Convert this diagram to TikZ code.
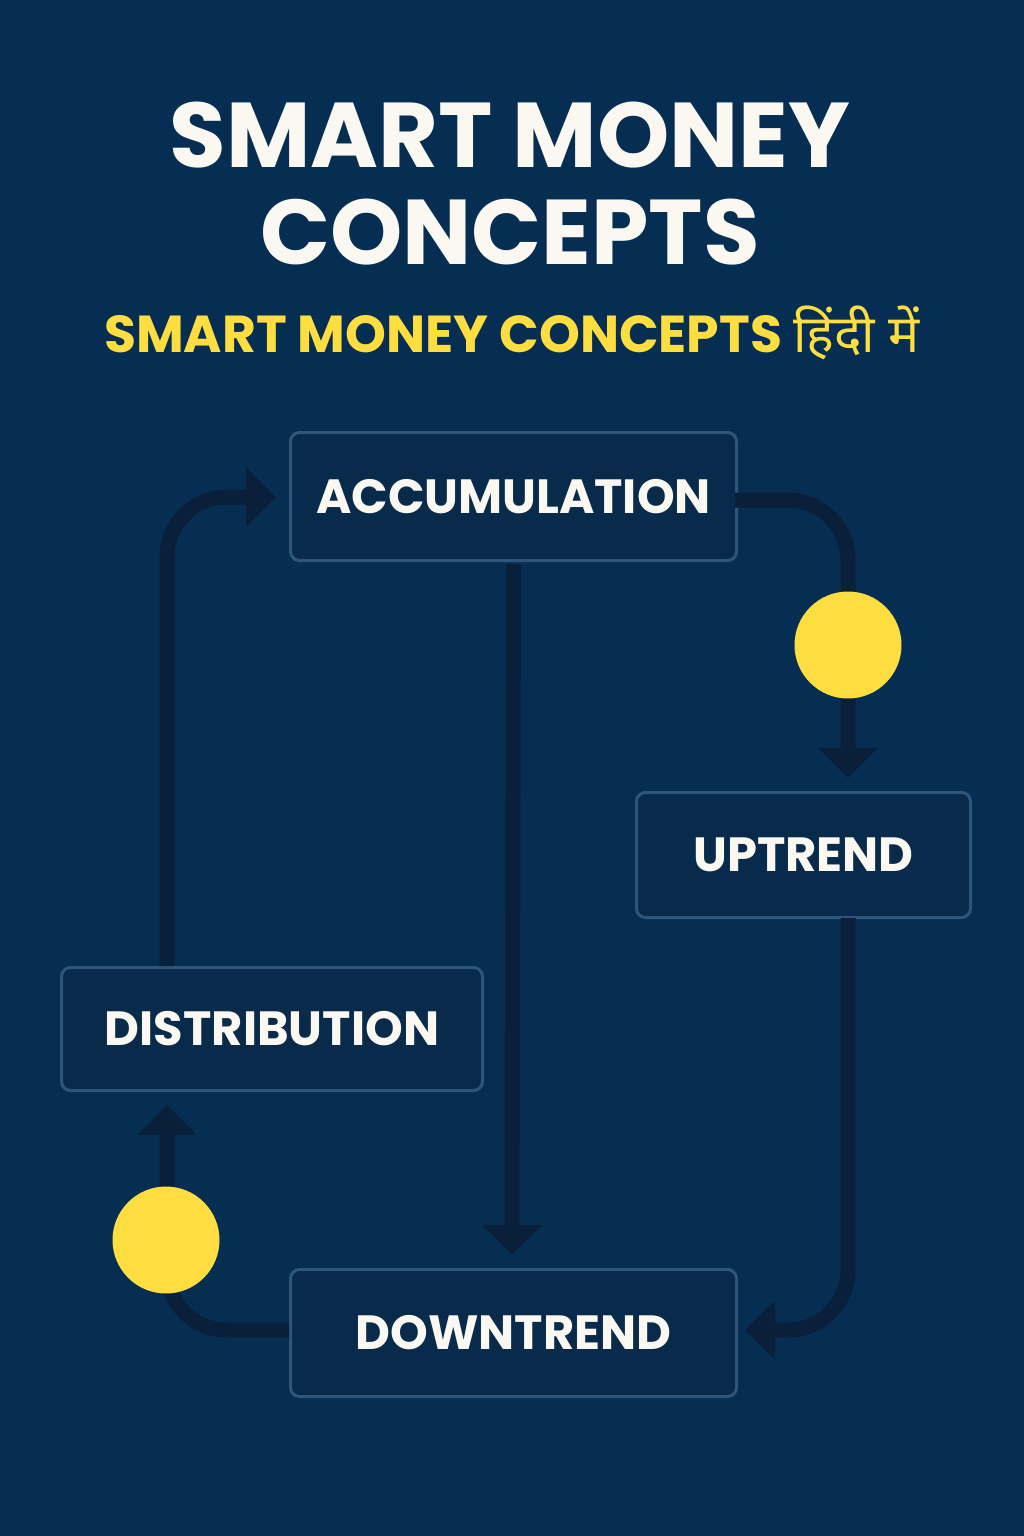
\documentclass[tikz,border=0pt]{standalone}
\usepackage{fontspec}
\setmainfont{Poppins}
\newfontfamily\hindifont[Script=Devanagari]{Noto Sans}
\usetikzlibrary{arrows.meta}
\definecolor{bg}{HTML}{052E52}
\definecolor{boxfill}{HTML}{082A4B}
\definecolor{boxline}{HTML}{2F5678}
\definecolor{arr}{HTML}{0A1F3A}
\definecolor{ylw}{HTML}{FDDD40}
\definecolor{ttl}{HTML}{FAF8F0}
\tikzset{
  stage/.style={draw=boxline,line width=3pt,fill=boxfill,rounded corners=9pt,text=ttl,font=\fontsize{48}{50}\selectfont\bfseries,anchor=north west,inner sep=0pt,align=center},
  flow/.style={draw=arr,line width=15pt,rounded corners=60pt,-{Triangle[width=58pt,length=30pt]}},
  dot/.style={circle,fill=ylw,minimum size=107pt,inner sep=0pt}
}
\begin{document}
\begin{tikzpicture}[x=1pt,y=-1pt]
\fill[bg] (0,0) rectangle (1024,1536);
\useasboundingbox (0,0) rectangle (1024,1536);
\node[text=ttl,font=\fontsize{92}{96}\selectfont\bfseries,align=center] (t1) at (510,135) {SMART MONEY};
\node[text=ttl,font=\fontsize{92}{96}\selectfont\bfseries,align=center] (t2) at (510,232) {CONCEPTS};
\node[text=ylw,font=\fontsize{52}{56}\selectfont\bfseries] (sub) at (512,333) {SMART MONEY CONCEPTS {\hindifont\bfseries हिंदी में}};
\node[stage,minimum width=446pt,minimum height=128pt] (acc) at (289,431) {ACCUMULATION};
\node[stage,minimum width=334pt,minimum height=125pt] (up) at (635,791) {UPTREND};
\node[stage,minimum width=421pt,minimum height=123pt] (dist) at (60,966) {DISTRIBUTION};
\node[stage,minimum width=446pt,minimum height=127pt] (down) at (289,1268) {DOWNTREND};
\coordinate (a1) at (735,500);
\coordinate (a2) at (848,500);
\coordinate (a3) at (848,778);
\draw[flow] (a1) -- (a2) -- (a3);
\draw[flow] (acc.south) ++(0,2) coordinate (b1) -- (512,1255) coordinate (b2);
\coordinate (c1) at (848,918);
\coordinate (c2) at (848,1330);
\coordinate (c3) at (745,1330);
\draw[flow] (c1) -- (c2) -- (c3);
\coordinate (d1) at (289,1330);
\coordinate (d2) at (167,1330);
\coordinate (d3) at (167,1105);
\draw[flow] (d1) -- (d2) -- (d3);
\coordinate (e1) at (167,966);
\coordinate (e2) at (167,497);
\coordinate (e3) at (276,497);
\draw[flow] (e1) -- (e2) -- (e3);
\node[dot] (y1) at (848,645) {};
\node[dot] (y2) at (166,1240) {};
\end{tikzpicture}
\end{document}
